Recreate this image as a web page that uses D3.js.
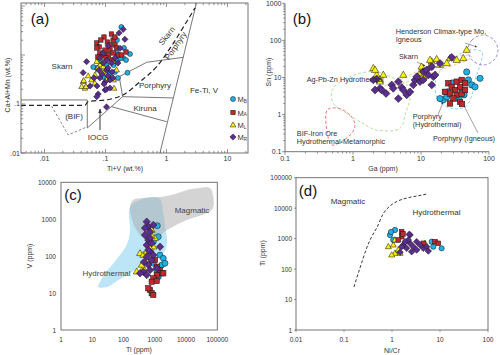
<!DOCTYPE html>
<html><head><meta charset="utf-8">
<script src="https://cdn.jsdelivr.net/npm/d3@7"></script>
<style>
body{margin:0;background:#fff}
svg{display:block;font-family:"Liberation Sans",Arial,Helvetica,sans-serif}
</style></head><body>
<svg id="chart" width="500" height="355"></svg>
<script>
// ---------------- DATA ----------------
const seriesKeys = ["B","A","L","R"];            // M_B, M_A, M_L, M_R
const seriesLegend = ["B","A","L","R"];
// Panel (a) Ti+V (wt.%) vs Ca+Al+Mn (wt.%)
const aX_B = [0.182,0.154,0.252,0.195,0.16,0.217,0.229,0.16,0.1185,0.0813,0.104,0.133,0.072,0.091,0.152,0.177,0.136,0.143,0.1185,0.063,0.081,0.201,0.106];
const aY_B = [3.73,2.02,1.05,0.87,0.79,0.79,0.435,0.34,0.34,0.79,0.625,0.72,0.543,0.355,1.10,0.87,0.625,0.45,0.43,0.57,1.0,1.39,0.494];
const aX_A = [0.0945,0.072,0.079,0.107,0.125,0.133,0.143,0.098,0.1185,0.152,0.217,0.081,0.092,0.111,0.133,0.162,0.072,0.143,0.182,0.1185,0.084,0.102,0.128,0.075];
const aY_A = [2.33,1.76,1.46,1.84,2.68,2.02,1.60,1.26,1.26,1.39,1.15,1.10,1.0,1.0,1.10,1.0,1.39,2.33,1.0,1.60,2.02,0.87,0.79,0.91];
const aX_L = [0.0406,0.046,0.043,0.052,0.059,0.067,0.076,0.081,0.136,0.152,0.072,0.104,0.067,0.086,0.092,0.136,0.044,0.048,0.138,0.075,0.114,0.094];
const aY_L = [0.226,0.209,0.285,0.373,0.309,0.39,0.494,0.625,0.73,0.494,0.73,0.309,0.265,0.46,0.575,0.309,0.30,0.226,0.209,0.543,0.91,0.43];
const aX_R = [0.195,0.208,0.173,0.049,0.043,0.081,0.092,0.104,0.081,0.098,0.1185,0.098,0.104,0.076,0.072,0.104,0.056,0.143,0.125,0.092,0.11,0.088,0.11,0.128,0.078,0.0945,0.1185,0.133,0.065,0.16,0.106,0.0726,0.167,0.11];
const aY_R = [3.34,2.09,1.37,0.73,0.435,0.87,0.685,0.494,0.34,0.281,0.309,0.193,0.2,0.16,0.141,0.087,0.233,0.87,0.685,1.09,0.543,0.409,0.373,0.45,0.494,0.256,0.212,0.34,0.34,0.685,0.79,0.233,2.81,1.53];
const aSolidLines = [
  [[0.00412,0.121],[0.0503,0.121],[0.0503,0.0324],[0.191,0.141]],
  [[0.126,0.088],[1.007,0.0435]],
  [[0.191,0.141],[1.29,0.133]],
  [[0.191,0.141],[0.168,0.361],[0.473,0.710],[1.885,0.898]],
  [[0.781,0.01],[3.13,12.2]]
];
const aDashLine = [[0.00412,0.094],[0.0461,0.094],[0.0516,0.111],[0.1185,0.125],[0.194,0.153],[0.368,0.285],[0.690,0.577],[1.29,1.73],[2.14,4.78],[2.93,9.10]];
const aBifLine = [[0.0131,0.091],[0.0245,0.0233],[0.0503,0.0344]];
const aXTicks = [0.01,0.1,1,10], aXTickLabels = [".01",".1","1","10"];
const aYTicks = [0.01,0.1], aYTickLabels = [".01",".1"];
const aLabels = [
  {t:"Skarn",x:0.0194,y:0.569,r:0},{t:"Porphyry",x:0.647,y:0.233,r:0},{t:"Kiruna",x:0.445,y:0.0828,r:0},
  {t:"(BIF)",x:0.0305,y:0.0543,r:0},{t:"IOCG",x:0.0754,y:0.0212,r:0},{t:"Fe-Ti, V",x:4.12,y:0.193,r:0},
  {t:"Skarn",x:1.02,y:2.44,r:-52},{t:"Porphyry",x:1.43,y:1.53,r:-56}
];
const aArrow = [[0.0813,0.0294],[0.0813,0.0791]];

// Panel (b) Ga (ppm) vs Sn (ppm)
const bX_B = [47.0,73.8,49.7,55.7,21.3,23.9,19.0,35.4,62.2,40.1,28.6,42.9,24.9];
const bY_B = [14.1,9.5,8.6,6.3,2.5,3.0,2.7,2.7,5.6,4.6,7.1,3.4,4.1];
const bX_A = [25.2,28.3,33.5,39.7,44.4,37.5,31.6,26.7,22.5,33.5,39.7,44.4,29.9,37.5,26.7,40.1];
const bY_A = [7.0,5.6,7.7,8.6,7.0,5.6,4.6,3.7,4.1,3.4,3.7,4.6,2.7,2.2,2.0,1.93];
const bX_L = [1.99,2.23,2.79,2.49,5.49,9.66,10.2,14.4,13.6,19.0,26.7,33.5,23.9,41.9,47.0,13.6,17.0,9.12,10.8,2.49,2.11];
const bY_L = [17.7,11.7,11.7,8.6,11.7,13.0,19.5,26.7,19.5,21.7,33.0,29.6,24.1,33.0,55.1,29.6,31.0,10.1,10.5,7.7,15.9];
const bX_R = [2.23,2.49,2.64,3.71,3.91,4.64,5.20,5.49,6.16,4.64,6.89,7.71,8.16,8.65,9.66,10.8,10.8,12.1,14.4,12.8,15.2,16.1,19.0,28.3,14.4,1.99,2.11,3.06];
const bY_R = [9.1,5.1,4.6,6.3,5.1,7.7,5.4,4.6,3.4,2.7,4.1,6.3,8.6,10.5,7.7,8.6,14.3,15.9,19.5,11.7,10.5,11.7,24.1,35.0,6.3,8.6,4.6,3.7];
const bFields = [
  {name:"Ag-Pb-Zn", color:"#b9dca3", pts:[[0.487,4.14],[0.644,7.7],[1.27,13.0],[2.23,14.3],[3.50,10.5],[6.16,6.3],[6.89,3.0],[5.82,0.975],[4.91,0.427],[2.23,0.385],[1.27,0.644],[0.808,1.08],[0.513,2.0]]},
  {name:"BIF", color:"#f07a7a", pts:[[0.419,1.33],[0.608,1.48],[0.904,0.975],[1.07,0.525],[0.957,0.313],[0.608,0.168],[0.487,0.152],[0.419,0.313]]},
  {name:"Skarn", color:"#f6c79a", pts:[[2.67,5.2],[4.91,8.6],[9.66,15.9],[19.0,26.2],[44.4,40.4],[56.2,35.7],[37.5,24.6],[19.0,15.9],[9.66,10.3],[4.91,6.3],[2.96,4.06]]},
  {name:"PorphyryHydro", color:"#8fd4f0", pts:[[22.5,20.4],[31.6,35.7],[52.6,55.1],[78.9,48.7],[73.8,21.7],[62.2,8.6],[56.2,3.4],[44.4,1.60],[26.7,1.51],[17.8,2.5],[16.1,6.3],[17.8,12.4]]},
  {name:"Henderson", color:"#9b93d6", pts:[[49.1,55.1],[56.2,102.5],[81.6,140],[118.5,102.5],[135.5,55.1],[118.5,29.6],[81.6,21.7],[56.2,29.6]]}
];
const bLabels = [
  {t:"Henderson Climax-type Mo,",x:4.25,y:172},{t:"Igneous",x:4.25,y:103},{t:"Skarn",x:4.75,y:35.7},
  {t:"Ag-Pb-Zn Hydrothermal",x:0.208,y:8.6},{t:"BIF-Iron Ore",x:0.149,y:0.313},{t:"Hydrothermal-Metamorphic",x:0.149,y:0.194},
  {t:"Porphyry",x:7.55,y:0.877},{t:"(Hydrothermal)",x:7.55,y:0.525},{t:"Porphyry (Igneous)",x:15.0,y:0.23}
];
const bArrows = [
  [[44.4,85.1],[66.6,66.4]],
  [[8.73,26.2],[11.5,20.4]],
  [[17.8,0.975],[21.1,2.19]],
  [[68.9,0.319],[41.5,1.93]]
];
const bXTicks = [0.1,1,10,100], bXTickLabels = ["0.1","1","10","100"];
const bYTicks = [0.1,1,10,100,1000], bYTickLabels = ["0.1","1","10","100","1000"];

// Panel (c) Ti (ppm) vs V (ppm)
const cX_B = [1204,897,1297,1468,1874,1663,1151,1297,897,2123];
const cY_B = [667,246,336,107,87.4,57.5,42.2,27.7,63.9,63.9];
const cX_A = [1016,1151,1468,1663,1151,897,797,1151,703,797,897,621,1874];
const cY_A = [78.6,51.8,42.2,34.3,30.8,25.1,20.3,21.2,12.1,9.9,8.9,13.5,34.3];
const cX_L = [337,429,552,897,1016,703,429,382,797,552,264,607,815];
const cY_L = [119,107,78.6,180,304,163,46.9,57.5,510,132,37.9,227,336];
const cX_R = [552,621,703,487,621,552,797,703,552,797,621,429,337,552,1468,897,1151,703,897,621,452,703,487];
const cY_R = [857,627,459,374,274,200,223,132,96.6,78.6,57.5,37.9,34.3,30.8,180,107,46.9,42.2,697,147,69.4,310,578];
const cMagmaticTi = [161,201,420,1468,4433,10740,27970,58340,72830,72830,46770,10740,2460,1177,607,337,216,173];
const cMagmaticV  = [2140,3310,3750,3990,4820,6180,7000,7000,4530,2010,1470,953,510,310,274,374,697,1300];
const cHydroTi = [15.3,17.7,23.7,42.8,77.1,129,161,161,337,815,1468,1832,2123,2460,1972,1094,564,337,161,61.8,29.6];
const cHydroV  = [14.6,19.9,30.8,57.5,107,213,451,2140,3310,3990,3530,1670,697,227,129,89.1,69.4,50.8,34.9,21.2,14.6];
const cLabels = [{t:"Magmatic",x:15520,y:1775},{t:"Hydrothermal",x:28.6,y:34.3}];
const cXTicks = [1,10,100,1000,10000,100000], cXTickLabels = ["1","10","100","1000","10000","100000"];
const cYTicks = [1,10,100,1000,10000], cYTickLabels = ["1","10","100","1000","10000"];

// Panel (d) Ni/Cr vs Ti (ppm)
const dX_B = [0.908,1.155,1.064,10.8,7.25,6.71,0.953];
const dY_B = [1315,1919,901,481,543,793,1649];
const dX_A = [1.59,1.59,1.35,4.49,7.87,9.23,1.69];
const dY_A = [1687,1156,901,702,793,702,1419];
const dX_L = [0.837,1.064,1.155,0.986,1.35,1.47,1.155,4.87];
const dY_L = [543,618,330,290,423,330,901,702];
const dX_R = [2.37,1.72,2.02,2.37,2.78,3.27,3.27,3.83,4.49,5.28,2.19,2.57,1.59,1.87,1.47,5.70,2.29];
const dY_R = [1315,618,481,702,543,793,423,618,481,543,901,372,543,793,356,393,1387];
const dCurveX = [0.161,0.215,0.297,0.383,0.480,0.650,0.908,1.33,2.05,3.32,5.36];
const dCurveY = [25.8,108,492,1219,2233,6430,11770,17180,21560,25060,29170];
const dLabels = [{t:"Magmatic",x:0.121,y:17180},{t:"Hydrothermal",x:8.45,y:7100}];
const dXTicks = [0.01,0.1,1,10,100], dXTickLabels = ["0.01","0.1","1","10","100"];
const dYTicks = [1,10,100,1000,10000,100000], dYTickLabels = ["1","10","100","1000","10000","100000"];

// ---------------- STYLE ----------------
const fills = {B:"#1fb1e6", A:"#c1272d", L:"#fff200", R:"#5b2d8e"};
const shapes = {B:"circle", A:"square", L:"triangle", R:"diamond"};
const axisCol = "#666", textCol = "#333";

const svg = d3.select("#chart");
const defs = svg.append("defs");
defs.append("marker").attr("id","arr").attr("viewBox","0 0 10 10").attr("refX",9).attr("refY",5)
  .attr("markerWidth",5).attr("markerHeight",5).attr("orient","auto")
  .append("path").attr("d","M0,1 L10,5 L0,9 Z").attr("fill","#333");

function zip(xs, ys){ return xs.map((x,i)=>[x, ys[i]]); }

function drawSym(g, type, x, y, s, fill){
  let el;
  if(type==="circle") el = g.append("circle").attr("cx",x).attr("cy",y).attr("r",s/2);
  else if(type==="square"){ const a=s*0.88; el = g.append("rect").attr("x",x-a/2).attr("y",y-a/2).attr("width",a).attr("height",a); }
  else if(type==="triangle"){ const a=s*1.15, h=a*0.866; el = g.append("path").attr("d",`M${x},${y-h*0.62}L${x+a/2},${y+h*0.38}L${x-a/2},${y+h*0.38}Z`); }
  else { const d=s*0.62; el = g.append("path").attr("d",`M${x},${y-d}L${x+d},${y}L${x},${y+d}L${x-d},${y}Z`); }
  el.attr("fill",fill).attr("stroke","#1a1a1a").attr("stroke-width",0.55);
}

function drawSeries(g, xs, ys, sx, sy, s, order){
  order.forEach(k=>{
    zip(xs[k], ys[k]).forEach(p=>drawSym(g, shapes[k], sx(p[0]), sy(p[1]), s, fills[k]));
  });
}

function logTicks(domain){
  const [a,b] = domain, out=[];
  for(let n=Math.floor(Math.log10(a)); n<=Math.ceil(Math.log10(b)); n++)
    for(let k=1;k<10;k++){ const v=k*Math.pow(10,n); if(v>=a*0.9999 && v<=b*1.0001) out.push({v, major:k===1}); }
  return out;
}

function clip(id, x, y, w, h){
  defs.append("clipPath").attr("id",id).append("rect").attr("x",x).attr("y",y).attr("width",w).attr("height",h);
}

function text(g, t, x, y, size, opts={}){
  const el = g.append("text").attr("x",x).attr("y",y).attr("font-size",size).attr("fill",opts.fill||textCol)
    .attr("text-anchor",opts.anchor||"middle").attr("dominant-baseline",opts.base||"central").text(t);
  if(opts.rot!==undefined) el.attr("transform",`rotate(${opts.rot},${x},${y})`);
  return el;
}

const order = ["B","L","A","R"];

// ---------------- PANEL (a) ----------------
{
  const L=21,R=248,T=3,B=153;
  const x = d3.scaleLog().domain([Math.pow(10,-2.385), Math.pow(10,1.336)]).range([L,R]);
  const y = d3.scaleLog().domain([0.01, Math.pow(10,1.061)]).range([B,T]);
  const g = svg.append("g");
  clip("clipA", L, T, R-L, B-T);
  const gc = g.append("g").attr("clip-path","url(#clipA)");
  const line = d3.line().x(d=>x(d[0])).y(d=>y(d[1]));
  aSolidLines.forEach(l=>gc.append("path").attr("d",line(l)).attr("fill","none").attr("stroke","#555").attr("stroke-width",0.8));
  gc.append("path").attr("d",d3.line().curve(d3.curveMonotoneX).x(d=>x(d[0])).y(d=>y(d[1]))(aDashLine))
    .attr("fill","none").attr("stroke","#222").attr("stroke-width",1.2).attr("stroke-dasharray","5,3");
  gc.append("path").attr("d",line(aBifLine)).attr("fill","none").attr("stroke","#555").attr("stroke-width",0.7).attr("stroke-dasharray","2.5,2");
  g.append("rect").attr("x",L).attr("y",T).attr("width",R-L).attr("height",B-T).attr("fill","none").attr("stroke",axisCol).attr("stroke-width",0.9);
  logTicks(x.domain()).forEach(t=>{
    const px=x(t.v), len=t.major?4:2.2;
    g.append("line").attr("x1",px).attr("x2",px).attr("y1",B).attr("y2",B-len).attr("stroke",axisCol).attr("stroke-width",0.7);
    g.append("line").attr("x1",px).attr("x2",px).attr("y1",T).attr("y2",T+len).attr("stroke",axisCol).attr("stroke-width",0.7);
  });
  logTicks(y.domain()).forEach(t=>{
    const py=y(t.v), len=t.major?4:2.2;
    g.append("line").attr("x1",L).attr("x2",L+len).attr("y1",py).attr("y2",py).attr("stroke",axisCol).attr("stroke-width",0.7);
  });
  aXTicks.forEach((v,i)=>text(g, aXTickLabels[i], x(v), 158, 7));
  aYTicks.forEach((v,i)=>text(g, aYTickLabels[i], L-1, y(v), 7, {anchor:"end"}));
  text(g, "Ti+V (wt.%)", 125, 168, 7);
  text(g, "Ca+Al+Mn (wt.%)", 7, 85, 7, {rot:-90});
  aLabels.forEach(l=>text(g, l.t, x(l.x), y(l.y), 8, {rot:l.r}));
  g.append("path").attr("d",line(aArrow)).attr("stroke","#222").attr("stroke-width",0.9).attr("marker-end","url(#arr)");
  drawSeries(gc, {B:aX_B,A:aX_A,L:aX_L,R:aX_R}, {B:aY_B,A:aY_A,L:aY_L,R:aY_R}, x, y, 5, order);
  text(g, "(a)", 40, 18, 15, {fill:"#111"});
  // legend
  seriesKeys.forEach((k,i)=>{
    const ly = [99,112.5,125,137][i];
    drawSym(g, shapes[k], 233, ly, 5, fills[k]);
    const t = g.append("text").attr("x",237.5).attr("y",ly).attr("dominant-baseline","central").attr("font-size",7.5).attr("fill",textCol);
    t.append("tspan").text("M");
    t.append("tspan").attr("font-size",4.5).attr("dy",1.6).text(seriesLegend[i]);
  });
}

// ---------------- PANEL (b) ----------------
{
  const L=285,R=489,T=3.3,B=151.7;
  const x = d3.scaleLog().domain([0.1,100]).range([L,R]);
  const y = d3.scaleLog().domain([0.1,1000]).range([B,T]);
  const g = svg.append("g");
  const closed = d3.line().curve(d3.curveCatmullRomClosed.alpha(0.5)).x(d=>x(d[0])).y(d=>y(d[1]));
  bFields.forEach(f=>g.append("path").attr("d",closed(f.pts)).attr("fill","none").attr("stroke",f.color).attr("stroke-width",1).attr("stroke-dasharray","3,2"));
  g.append("line").attr("x1",L).attr("x2",L).attr("y1",T).attr("y2",B).attr("stroke",axisCol).attr("stroke-width",0.9);
  g.append("line").attr("x1",L).attr("x2",R).attr("y1",B).attr("y2",B).attr("stroke",axisCol).attr("stroke-width",0.9);
  logTicks(x.domain()).forEach(t=>{
    const px=x(t.v), len=t.major?3:1.8;
    g.append("line").attr("x1",px).attr("x2",px).attr("y1",B).attr("y2",B+len).attr("stroke",axisCol).attr("stroke-width",0.7);
  });
  logTicks(y.domain()).forEach(t=>{
    const py=y(t.v), len=t.major?3:1.8;
    g.append("line").attr("x1",L).attr("x2",L-len).attr("y1",py).attr("y2",py).attr("stroke",axisCol).attr("stroke-width",0.7);
  });
  bXTicks.forEach((v,i)=>text(g, bXTickLabels[i], x(v), 158.5, 7));
  bYTicks.forEach((v,i)=>text(g, bYTickLabels[i], L-3.5, y(v), 7, {anchor:"end"}));
  text(g, "Ga (ppm)", 383, 168, 7);
  text(g, "Sn (ppm)", 268, 72, 7, {rot:-90});
  const line = d3.line().x(d=>x(d[0])).y(d=>y(d[1]));
  bArrows.forEach(a=>g.append("path").attr("d",line(a)).attr("stroke","#444").attr("stroke-width",0.5).attr("marker-end","url(#arr)"));
  drawSeries(g, {B:bX_B,A:bX_A,L:bX_L,R:bX_R}, {B:bY_B,A:bY_A,L:bY_L,R:bY_R}, x, y, 6.3, order);
  bLabels.forEach(l=>text(g, l.t, x(l.x), y(l.y), 7.3, {anchor:"start"}));
  text(g, "(b)", 302, 18, 15, {fill:"#111"});
}

// ---------------- PANEL (c) ----------------
{
  const L=61,R=217.3,T=182.3,B=330;
  const x = d3.scaleLog().domain([1,100000]).range([L,R]);
  const y = d3.scaleLog().domain([1,10000]).range([B,T]);
  const g = svg.append("g");
  const closed = d3.line().curve(d3.curveCatmullRomClosed.alpha(0.5)).x(d=>x(d[0])).y(d=>y(d[1]));
  g.append("path").attr("d",closed(zip(cHydroTi,cHydroV))).attr("fill","#bde5f8");
  g.append("path").attr("d",closed(zip(cMagmaticTi,cMagmaticV))).attr("fill","#aaaaaa").attr("fill-opacity",0.5);
  g.append("rect").attr("x",L).attr("y",T).attr("width",R-L).attr("height",B-T).attr("fill","none").attr("stroke",axisCol).attr("stroke-width",0.9);
  cXTicks.forEach((v,i)=>text(g, cXTickLabels[i], x(v), 339, 6.5));
  cYTicks.forEach((v,i)=>text(g, cYTickLabels[i], L-5, y(v), 6.5, {anchor:"end"}));
  text(g, "Ti (ppm)", 139, 349, 7);
  text(g, "V (ppm)", 29, 256, 7, {rot:-90});
  cLabels.forEach((l,i)=>text(g, l.t, x(l.x), y(l.y), 8, {fill:"#444"}));
  drawSeries(g, {B:cX_B,A:cX_A,L:cX_L,R:cX_R}, {B:cY_B,A:cY_A,L:cY_L,R:cY_R}, x, y, 6, ["B","A","L","R"]);
  text(g, "(c)", 73, 194, 15, {fill:"#111"});
}

// ---------------- PANEL (d) ----------------
{
  const L=296,R=488,T=177.7,B=330;
  const x = d3.scaleLog().domain([0.01,100]).range([L,R]);
  const y = d3.scaleLog().domain([1,100000]).range([B,T]);
  const g = svg.append("g");
  g.append("rect").attr("x",L).attr("y",T).attr("width",R-L).attr("height",B-T).attr("fill","none").attr("stroke",axisCol).attr("stroke-width",0.9);
  dXTicks.forEach((v,i)=>{
    g.append("line").attr("x1",x(v)).attr("x2",x(v)).attr("y1",B).attr("y2",B+2).attr("stroke",axisCol).attr("stroke-width",0.7);
    text(g, dXTickLabels[i], x(v), 339, 6.5);
  });
  dYTicks.forEach((v,i)=>{
    g.append("line").attr("x1",L).attr("x2",L-2).attr("y1",y(v)).attr("y2",y(v)).attr("stroke",axisCol).attr("stroke-width",0.7);
    text(g, dYTickLabels[i], L-4, y(v), 6.5, {anchor:"end"});
  });
  text(g, "Ni/Cr", 392, 350, 7);
  text(g, "Ti (ppm)", 262, 253, 7, {rot:-90});
  g.append("path").attr("d",d3.line().curve(d3.curveMonotoneX).x(d=>x(d[0])).y(d=>y(d[1]))(zip(dCurveX,dCurveY)))
    .attr("fill","none").attr("stroke","#222").attr("stroke-width",0.9).attr("stroke-dasharray","3,2");
  dLabels.forEach(l=>text(g, l.t, x(l.x), y(l.y), 8));
  drawSeries(g, {B:dX_B,A:dX_A,L:dX_L,R:dX_R}, {B:dY_B,A:dY_A,L:dY_L,R:dY_R}, x, y, 5.3, order);
  text(g, "(d)", 308, 190, 15, {fill:"#111"});
}
</script></body></html>
